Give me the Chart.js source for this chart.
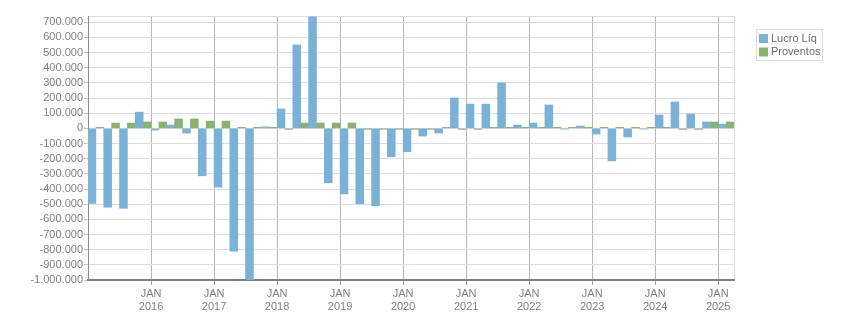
<!DOCTYPE html>
<html>
<head>
<meta charset="utf-8">
<script src="https://cdn.jsdelivr.net/npm/chart.js@4.4.1/dist/chart.umd.min.js"></script>
<style>
  html, body { margin: 0; padding: 0; background: #ffffff; }
  #wrap { width: 851px; height: 313px; position: relative; }
</style>
</head>
<body>
<div id="wrap"><canvas id="c" width="851" height="313"></canvas></div>
<script>
// ---- data ----
const quarters = [
  'T1 2015','T2 2015','T3 2015','T4 2015',
  'T1 2016','T2 2016','T3 2016','T4 2016',
  'T1 2017','T2 2017','T3 2017','T4 2017',
  'T1 2018','T2 2018','T3 2018','T4 2018',
  'T1 2019','T2 2019','T3 2019','T4 2019',
  'T1 2020','T2 2020','T3 2020','T4 2020',
  'T1 2021','T2 2021','T3 2021','T4 2021',
  'T1 2022','T2 2022','T3 2022','T4 2022',
  'T1 2023','T2 2023','T3 2023','T4 2023',
  'T1 2024','T2 2024','T3 2024','T4 2024',
  'T1 2025'
];
const lucroLiq = [
  -495000, -520000, -527000, 107000,
  -11000, 22000, -31000, -313000,
  -387000, -810000, -1000000, 10000,
  128000, 550000, 735000, -359000,
  -432000, -497000, -511000, -187000,
  -154000, -51000, -31000, 200000,
  160000, 160000, 299000, 22000,
  35000, 154000, -5000, 15000,
  -38000, -214000, -57000, -5000,
  88000, 174000, 94000, 42000,
  28000
];
const proventos = [
  2000, 35000, 35000, 42000,
  42000, 62000, 62000, 48000,
  48000, 2000, 2000, 2000,
  -2000, 35000, 35000, 35000,
  35000, -2000, -2000, -2000,
  -2000, -2000, 2000, -2000,
  -2000, 2000, 2000, 2000,
  2000, 2000, 2000, 2000,
  2000, 2000, 2000, 2000,
  2000, -2000, -2000, 42000,
  42000
];
const seriesNames = ['Lucro Líq', 'Proventos'];
const yTickValues = [700000, 600000, 500000, 400000, 300000, 200000, 100000, 0,
  -100000, -200000, -300000, -400000, -500000, -600000, -700000, -800000, -900000, -1000000];
const yMin = -1000000;
const yMax = 741000;
const monthLabel = 'JAN';

// ---- styles ----
const BLUE = '#79b2d6';
const GREEN = '#89b36b';
const FONT = '"Liberation Sans", Arial, sans-serif';

function fmt(v) {
  const s = Math.abs(v).toString().replace(/\B(?=(\d{3})+(?!\d))/g, '.');
  return (v < 0 ? '-' : '') + s;
}
function isYearStart(i) {
  return typeof i === 'number' && i > 0 && quarters[i] && quarters[i].indexOf('T1') === 0;
}

const boxLegend = {
  id: 'boxLegend',
  afterDraw(chart) {
    const ctx = chart.ctx;
    ctx.save();
    ctx.strokeStyle = '#dddddd';
    ctx.lineWidth = 1;
    ctx.strokeRect(756.5, 29.5, 66, 31);
    ctx.font = '11px ' + FONT;
    ctx.textBaseline = 'middle';
    ctx.textAlign = 'left';
    chart.data.datasets.forEach((ds, i) => {
      const y = 34 + i * 13.5;
      ctx.fillStyle = ds.backgroundColor;
      ctx.fillRect(759, y, 9, 9);
      ctx.fillStyle = '#6a6a72';
      ctx.fillText(ds.label, 771, y + 4.8);
    });
    ctx.restore();
  }
};

new Chart(document.getElementById('c'), {
  type: 'bar',
  data: {
    labels: quarters,
    datasets: [
      { label: seriesNames[0], data: lucroLiq, backgroundColor: BLUE, borderWidth: 0,
        categoryPercentage: 1.0, barPercentage: 1.0 },
      { label: seriesNames[1], data: proventos, backgroundColor: GREEN, borderWidth: 0,
        categoryPercentage: 1.0, barPercentage: 1.0, minBarLength: 1 }
    ]
  },
  options: {
    responsive: false,
    animation: false,
    devicePixelRatio: 1,
    layout: { padding: { top: 16, right: 117, bottom: 0, left: 0 } },
    plugins: {
      legend: { display: false },
      tooltip: { enabled: false }
    },
    scales: {
      x: {
        type: 'category',
        offset: true,
        afterFit: (s) => { s.height = 33; },
        grid: {
          offset: true,
          lineWidth: 1,
          drawOnChartArea: true,
          drawTicks: true,
          tickLength: 5,
          color: (c) => c.type === 'scale' ? '#dddddd' : (isYearStart(c.index) ? '#b4b4b4' : 'rgba(0,0,0,0)'),
          tickColor: (c) => (c.type !== 'scale' && isYearStart(c.index)) ? '#a0a0a0' : 'rgba(0,0,0,0)'
        },
        border: { display: true, color: '#7f7f7f', width: 2 },
        ticks: {
          autoSkip: false,
          maxRotation: 0,
          minRotation: 0,
          labelOffset: -7.88,
          padding: 2,
          color: '#7f7f87',
          font: { family: FONT, size: 11, lineHeight: 1.2 },
          callback: function (v, i) {
            return isYearStart(i) ? [monthLabel, quarters[i].split(' ')[1]] : '';
          }
        }
      },
      y: {
        min: yMin,
        max: yMax,
        afterFit: (s) => { s.width = 88; },
        afterBuildTicks: (s) => {
          s.ticks = yTickValues.map(v => ({ value: v })).concat([{ value: yMax }]);
        },
        grid: {
          color: '#dddddd',
          lineWidth: 1,
          drawTicks: true,
          tickLength: 4,
          tickColor: (c) => (c.tick && c.tick.value === yMax) ? 'rgba(0,0,0,0)' : '#c8c8c8'
        },
        border: { display: true, color: '#8a8a8a', width: 1 },
        ticks: {
          autoSkip: false,
          padding: 1,
          color: '#7f7f87',
          font: { family: FONT, size: 11 },
          callback: (v) => v === yMax ? '' : fmt(v)
        }
      }
    }
  },
  plugins: [boxLegend]
});
</script>
</body>
</html>
